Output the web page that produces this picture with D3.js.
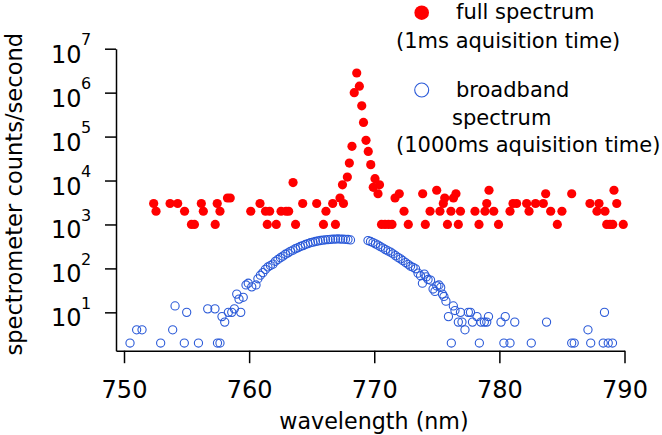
<!DOCTYPE html>
<html><head><meta charset="utf-8">
<script src="https://cdn.jsdelivr.net/npm/d3@7"></script>
<style>
body{margin:0;background:#fff}
text{font-family:"DejaVu Sans",sans-serif;fill:#000}
</style>
</head><body>
<svg id="c" width="662" height="435"></svg>
<script>
// ---- data ----
const redWavelength = [752.37,752.56,753.68,754.29,754.84,755.39,755.63,756.18,756.34,757.29,757.45,757.67,758.27,758.49,
  760.13,760.87,761.31,761.45,761.64,762.17,762.55,762.95,763.16,763.51,763.71,764.28,765.40,765.94,766.14,766.68,766.90,
  767.26,767.46,767.54,767.85,768.01,768.22,768.40,768.60,768.81,769.00,769.14,769.34,769.52,769.72,769.92,770.06,770.30,770.42,
  770.58,770.86,771.14,771.42,771.66,772.00,772.38,772.72,773.87,774.08,774.46,774.99,775.25,775.52,775.63,775.85,776.13,776.33,
  776.53,776.72,776.89,778.05,778.37,778.85,778.99,779.17,779.55,779.93,780.85,781.09,781.38,782.18,782.37,782.89,783.51,783.70,
  784.10,784.63,785.00,785.78,787.24,787.80,787.96,788.44,788.58,788.84,789.06,789.16,789.38,789.90];
const redCounts = [3000,2000,3000,3000,2000,1000,1000,3000,2000,1000,3000,2000,4000,4000,
  2000,3000,2000,1000,2000,1000,2000,2000,2000,9000,1000,3000,3000,1000,2000,3000,1000,
  4000,8000,3000,12000,25000,60000,1000000,2800000,1400000,500000,210000,82000,46000,23000,7000,11000,5000,8000,
  1000,1000,1000,1000,4000,5000,2000,1000,5000,1000,2000,6000,2000,3000,4000,1000,2000,4000,
  5000,1000,2000,2000,1000,2000,3000,6000,2000,1000,2000,3000,3000,3000,2000,3000,3000,5000,
  2000,1000,2000,5000,3000,2000,3000,2000,1000,1000,1000,6000,3000,1000];

const blueWavelength = [750.48,751.01,751.44,752.93,753.89,754.08,754.82,755.01,755.95,756.69,757.27,757.47,757.67,757.83,758.05,
  758.34,758.61,758.82,759.01,759.19,759.33,759.53,759.75,759.93,760.21,760.55,
  760.7,760.9,761.1,761.3,761.5,761.7,761.9,762.1,762.3,762.5,762.7,762.9,763.1,763.3,763.5,763.7,763.9,764.1,764.3,764.5,
  764.7,764.9,765.1,765.3,765.5,765.7,765.9,766.1,766.3,766.5,766.7,766.9,767.1,767.3,767.5,767.7,767.9,768.1,
  769.5,769.7,769.9,770.1,770.3,770.5,770.7,770.9,771.1,771.3,771.5,771.7,771.9,772.1,772.3,772.5,772.7,772.9,773.1,773.3,
  773.5,773.7,773.85,774.0,774.15,774.3,774.5,774.7,774.85,775.0,775.17,775.31,775.45,775.57,775.73,775.93,776.16,776.32,
  776.45,776.72,776.89,777.01,777.25,777.52,777.69,777.85,778.21,778.40,778.53,778.8,778.99,779.13,780.13,780.36,780.47,
  780.85,781.23,782.55,783.77,785.78,785.98,787.08,787.30,788.30,788.40,788.70,789.04];
const blueCounts = [2,4,4,2,4,14,2,10,2,12,12,2,2,8,6,
  10,10,12,26,20,10,22,42,46,38,42,
  58,70,80,95,108,116,125,145,160,175,190,210,225,245,260,280,295,315,330,350,
  365,385,395,410,420,432,440,448,452,458,462,466,468,466,462,460,455,445,
  430,410,388,362,338,312,290,268,250,235,215,195,178,165,150,136,124,112,106,98,
  78,68,46,74,64,56,54,34,30,40,42,37,26,23,18,8,2,14,
  11,6,10,6,4,10,10,6,8,2,6,6,6,8,6,2,8,
  2,6,2,6,2,2,4,2,2,10,2,2];

const xTickValues = [750, 760, 770, 780, 790];
const yTickExponents = [1, 2, 3, 4, 5, 6, 7];
const xTitle = "wavelength (nm)";
const yTitle = "spectrometer counts/second";
const legendRedLines = ["full spectrum", "(1ms aquisition time)"];
const legendBlueLines = ["broadband", "spectrum", "(1000ms aquisition time)"];

// ---- chart ----
const svg = d3.select("#c");
const x = d3.scaleLinear().domain([749.36, 790]).range([116, 624.5]);
const y = d3.scaleLog().domain([1.34, 1e7]).range([350.7, 48.7]);

const gx = svg.append("g").attr("transform", "translate(0,350.7)")
  .call(d3.axisBottom(x).tickValues(xTickValues).tickSize(12.5).tickSizeOuter(0).tickFormat(d3.format("d")));
gx.attr("font-family", null).attr("font-size", null);
gx.select(".domain").attr("stroke", "#000").attr("stroke-width", 1.5);
gx.selectAll(".tick line").attr("stroke", "#000").attr("stroke-width", 1.5);
gx.selectAll(".tick text").attr("font-size", 24).attr("y", 47.3).attr("dy", 0);

const gy = svg.append("g").attr("transform", "translate(116,0)")
  .call(d3.axisLeft(y).tickValues(yTickExponents.map(e => Math.pow(10, e))).tickSize(11).tickSizeOuter(0).tickFormat(""));
gy.attr("font-family", null).attr("font-size", null);
gy.select(".domain").attr("stroke", "#000").attr("stroke-width", 1.5);
gy.selectAll(".tick line").attr("stroke", "#000").attr("stroke-width", 1.5);

const yl = svg.append("g");
yTickExponents.forEach(e => {
  const ty = y(Math.pow(10, e));
  yl.append("text").attr("x", 81.5).attr("y", ty + 14).attr("text-anchor", "end").attr("font-size", 24).text("10");
  yl.append("text").attr("x", 81).attr("y", ty - 3.7).attr("font-size", 16).text(e);
});

svg.append("text").attr("x", 374).attr("y", 429).attr("text-anchor", "middle").attr("font-size", 22.2).text(xTitle);
svg.append("text").attr("transform", "translate(21.5,194.2) rotate(-90)").attr("text-anchor", "middle")
  .attr("font-size", 22.6).text(yTitle);

// points
svg.append("g").selectAll("circle").data(d3.zip(redWavelength, redCounts)).join("circle")
  .attr("cx", d => x(d[0])).attr("cy", d => y(d[1])).attr("r", 4.6).attr("fill", "#ff0000");
svg.append("g").selectAll("circle").data(d3.zip(blueWavelength, blueCounts)).join("circle")
  .attr("cx", d => x(d[0])).attr("cy", d => y(d[1])).attr("r", 4.1)
  .attr("fill", "none").attr("stroke", "#2b5ad8").attr("stroke-width", 1.1);

// legend
const lg = svg.append("g");
lg.append("circle").attr("cx", 421.7).attr("cy", 12.7).attr("r", 7.3).attr("fill", "#ff0000");
lg.append("text").attr("x", 456).attr("y", 19).attr("font-size", 21).text(legendRedLines[0]);
lg.append("text").attr("x", 396).attr("y", 47.7).attr("font-size", 21).text(legendRedLines[1]);
lg.append("circle").attr("cx", 421.7).attr("cy", 90).attr("r", 7).attr("fill", "none")
  .attr("stroke", "#2b5ad8").attr("stroke-width", 1.1);
lg.append("text").attr("x", 456).attr("y", 96.7).attr("font-size", 21).text(legendBlueLines[0]);
lg.append("text").attr("x", 452).attr("y", 125).attr("font-size", 21).text(legendBlueLines[1]);
lg.append("text").attr("x", 396).attr("y", 152.3).attr("font-size", 21).text(legendBlueLines[2]);
</script>
</body></html>
